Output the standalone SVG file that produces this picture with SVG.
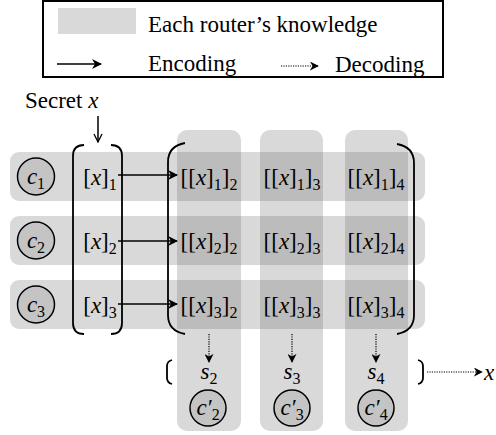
<svg xmlns="http://www.w3.org/2000/svg" width="496" height="435" viewBox="0 0 496 435">
<defs>
<style>
text{font-family:"Liberation Serif","Times New Roman",serif;font-size:23px;fill:#000}
.it{font-style:italic}
.sub{font-size:16px;font-style:normal}
.band{fill:#d9d9d9}
.cell{fill:#bcbcbc}
.node{fill:#c4c4c4;stroke:#000;stroke-width:1.5}
.br{fill:none;stroke:#000;stroke-width:1.8}
.enc{fill:none;stroke:#000;stroke-width:1.5}
.dec{fill:none;stroke:#000;stroke-width:1.2;stroke-dasharray:1.2 1.2}
</style>
<marker id="ah" viewBox="0 0 10 10" refX="9" refY="5" markerWidth="10" markerHeight="10" markerUnits="userSpaceOnUse" orient="auto">
<path d="M0,0 L10,5 L0,10 L3,5 Z" fill="#000"/>
</marker>
<marker id="ahd" viewBox="0 0 10 10" refX="9" refY="5" markerWidth="9" markerHeight="9" markerUnits="userSpaceOnUse" orient="auto">
<path d="M0,0 L10,5 L0,10 L3,5 Z" fill="#000"/>
</marker>
<marker id="av" viewBox="0 0 10 10" refX="9" refY="5" markerWidth="10" markerHeight="10" markerUnits="userSpaceOnUse" orient="auto">
<path d="M1,1 L9,5 L1,9" fill="none" stroke="#000" stroke-width="1.3"/>
</marker>
</defs>

<g id="legend">
<rect x="43" y="1" width="400" height="76" fill="#fff" stroke="#000" stroke-width="2"/>
<rect x="58" y="8" width="78" height="26" class="band"/>
<text x="148" y="32">Each router’s knowledge</text>
<line x1="57" y1="64" x2="101" y2="64" class="enc" marker-end="url(#ah)"/>
<text x="148" y="71">Encoding</text>
<line x1="281" y1="66" x2="318" y2="66" class="dec" marker-end="url(#ahd)"/>
<text x="335" y="72">Decoding</text>
</g>

<g id="bands">
<rect x="10" y="152" width="415" height="49" rx="9" class="band"/>
<rect x="10" y="216" width="415" height="49" rx="9" class="band"/>
<rect x="10" y="280" width="415" height="49" rx="9" class="band"/>
<rect x="177" y="130" width="64" height="301" rx="10" class="band"/>
<rect x="260" y="130" width="63" height="301" rx="10" class="band"/>
<rect x="345" y="130" width="63" height="301" rx="10" class="band"/>
<rect x="177" y="152" width="64" height="49" class="cell"/>
<rect x="260" y="152" width="63" height="49" class="cell"/>
<rect x="345" y="152" width="63" height="49" class="cell"/>
<rect x="177" y="216" width="64" height="49" class="cell"/>
<rect x="260" y="216" width="63" height="49" class="cell"/>
<rect x="345" y="216" width="63" height="49" class="cell"/>
<rect x="177" y="280" width="64" height="49" class="cell"/>
<rect x="260" y="280" width="63" height="49" class="cell"/>
<rect x="345" y="280" width="63" height="49" class="cell"/>
</g>

<g id="secret">
<text x="25" y="108">Secret <tspan class="it">x</tspan></text>
</g>

<g id="c1"><circle cx="36" cy="176.5" r="18.5" class="node"/><text x="36" y="184" text-anchor="middle"><tspan class="it">c</tspan><tspan class="sub" dy="5">1</tspan></text></g>
<g id="c2"><circle cx="36" cy="240.5" r="18.5" class="node"/><text x="36" y="248" text-anchor="middle"><tspan class="it">c</tspan><tspan class="sub" dy="5">2</tspan></text></g>
<g id="c3"><circle cx="36" cy="304.5" r="18.5" class="node"/><text x="36" y="312" text-anchor="middle"><tspan class="it">c</tspan><tspan class="sub" dy="5">3</tspan></text></g>

<g id="shares1">
<text x="100" y="185" text-anchor="middle">[<tspan class="it">x</tspan>]<tspan class="sub" dy="5">1</tspan></text>
<text x="100" y="249" text-anchor="middle">[<tspan class="it">x</tspan>]<tspan class="sub" dy="5">2</tspan></text>
<text x="100" y="313" text-anchor="middle">[<tspan class="it">x</tspan>]<tspan class="sub" dy="5">3</tspan></text>
</g>

<g id="col2">
<text x="209" y="185" text-anchor="middle">[[<tspan class="it">x</tspan>]<tspan class="sub" dy="5">1</tspan><tspan dy="-5">]</tspan><tspan class="sub" dy="5">2</tspan></text>
<text x="209" y="249" text-anchor="middle">[[<tspan class="it">x</tspan>]<tspan class="sub" dy="5">2</tspan><tspan dy="-5">]</tspan><tspan class="sub" dy="5">2</tspan></text>
<text x="209" y="313" text-anchor="middle">[[<tspan class="it">x</tspan>]<tspan class="sub" dy="5">3</tspan><tspan dy="-5">]</tspan><tspan class="sub" dy="5">2</tspan></text>
</g>
<g id="col3">
<text x="292" y="185" text-anchor="middle">[[<tspan class="it">x</tspan>]<tspan class="sub" dy="5">1</tspan><tspan dy="-5">]</tspan><tspan class="sub" dy="5">3</tspan></text>
<text x="292" y="249" text-anchor="middle">[[<tspan class="it">x</tspan>]<tspan class="sub" dy="5">2</tspan><tspan dy="-5">]</tspan><tspan class="sub" dy="5">3</tspan></text>
<text x="292" y="313" text-anchor="middle">[[<tspan class="it">x</tspan>]<tspan class="sub" dy="5">3</tspan><tspan dy="-5">]</tspan><tspan class="sub" dy="5">3</tspan></text>
</g>
<g id="col4">
<text x="376" y="185" text-anchor="middle">[[<tspan class="it">x</tspan>]<tspan class="sub" dy="5">1</tspan><tspan dy="-5">]</tspan><tspan class="sub" dy="5">4</tspan></text>
<text x="376" y="249" text-anchor="middle">[[<tspan class="it">x</tspan>]<tspan class="sub" dy="5">2</tspan><tspan dy="-5">]</tspan><tspan class="sub" dy="5">4</tspan></text>
<text x="376" y="313" text-anchor="middle">[[<tspan class="it">x</tspan>]<tspan class="sub" dy="5">3</tspan><tspan dy="-5">]</tspan><tspan class="sub" dy="5">4</tspan></text>
</g>

<g id="s-values">
<text x="209" y="379" text-anchor="middle"><tspan class="it">s</tspan><tspan class="sub" dy="5">2</tspan></text>
<text x="292" y="379" text-anchor="middle"><tspan class="it">s</tspan><tspan class="sub" dy="5">3</tspan></text>
<text x="376" y="379" text-anchor="middle"><tspan class="it">s</tspan><tspan class="sub" dy="5">4</tspan></text>
<text x="484" y="380" class="it">x</text>
</g>

<g id="c2p"><circle cx="208" cy="408" r="18" class="node"/><text x="208" y="415" text-anchor="middle"><tspan class="it">c′</tspan><tspan class="sub" dy="5">2</tspan></text></g>
<g id="c3p"><circle cx="292" cy="408" r="18" class="node"/><text x="292" y="415" text-anchor="middle"><tspan class="it">c′</tspan><tspan class="sub" dy="5">3</tspan></text></g>
<g id="c4p"><circle cx="376" cy="408" r="18" class="node"/><text x="376" y="415" text-anchor="middle"><tspan class="it">c′</tspan><tspan class="sub" dy="5">4</tspan></text></g>

<g id="brackets">
<path class="br" d="M84,145 Q73,145 73,156 L73,323 Q73,334 84,334"/>
<path class="br" d="M111,145 Q122,145 122,156 L122,323 Q122,334 111,334"/>
<path class="br" d="M185,143 C174,145 168,151 168,162 L168,315 C168,326 174,332 185,334"/>
<path class="br" d="M397,144 C408,146 414,152 414,163 L414,315 C414,326 408,332 397,334"/>
<path class="br" d="M172,360 C168,361 167,363 167,366 L167,378 C167,381 168,383 172,384"/>
<path class="br" d="M418,360 C422,361 423,363 423,366 L423,378 C423,381 422,383 418,384"/>
</g>

<g id="connectors">
<line x1="98" y1="116" x2="98" y2="142" class="enc" marker-end="url(#av)"/>
<line x1="118" y1="175" x2="177" y2="175" class="enc" marker-end="url(#ah)"/>
<line x1="118" y1="241" x2="177" y2="241" class="enc" marker-end="url(#ah)"/>
<line x1="118" y1="304" x2="177" y2="304" class="enc" marker-end="url(#ah)"/>
<line x1="209" y1="334" x2="209" y2="362" class="dec" marker-end="url(#ahd)"/>
<line x1="292" y1="334" x2="292" y2="362" class="dec" marker-end="url(#ahd)"/>
<line x1="376" y1="334" x2="376" y2="362" class="dec" marker-end="url(#ahd)"/>
<line x1="427" y1="372" x2="482" y2="372" class="dec" marker-end="url(#ahd)"/>
</g>
</svg>
